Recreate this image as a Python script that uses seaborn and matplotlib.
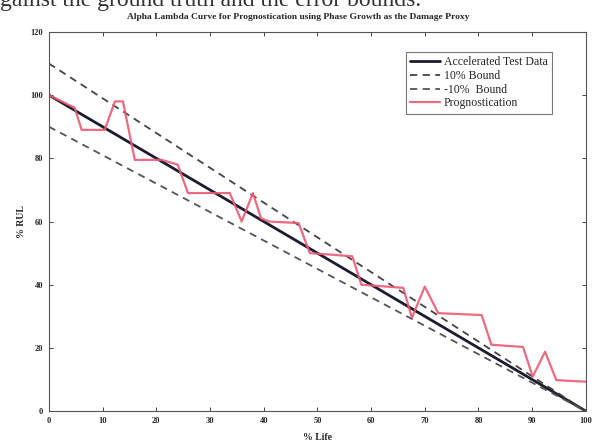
import matplotlib
matplotlib.use("Agg")
import matplotlib.pyplot as plt
import seaborn as sns
import pandas as pd

# ---- data ----
life_ends = [0, 100]
truth_rul = [100, 0]
upper_bound = [110, 0]
lower_bound = [90, 0]

prog_life = [0, 4.8, 6.1, 10.4, 12.3, 13.8, 16, 21, 24, 25.9, 33.7, 35.9, 38, 39.5,
             41, 46.5, 48.6, 56.5, 58.2, 66, 67.6, 70, 72.5, 80.6, 82.4, 88.3, 90.1,
             92.4, 94.5, 100]
prog_rul = [100, 96, 89, 89, 98, 98, 79.5, 79.5, 78, 69, 69, 60, 69, 61,
            60, 59.5, 50, 49, 40, 39, 29.5, 39.4, 31, 30.4, 21, 20.3, 10.9,
            18.8, 9.8, 9.3]

x_ticks = [0, 10, 20, 30, 40, 50, 60, 70, 80, 90, 100]
y_ticks = [0, 20, 40, 60, 80, 100, 120]

title = "Alpha Lambda Curve for Prognostication using Phase Growth as the Damage Proxy"
caption = "gainst the ground truth and the error bounds."

sns.set_style("white")
plt.rcParams['font.family'] = ['Liberation Serif', 'DejaVu Serif']

fig = plt.figure(figsize=(5.96, 4.43), dpi=100)
ax = fig.add_axes([0.082, 0.072, 0.901, 0.856])

df_lines = pd.DataFrame({"life": life_ends, "truth": truth_rul,
                         "upper": upper_bound, "lower": lower_bound})
df_prog = pd.DataFrame({"life": prog_life, "rul": prog_rul})

sns.lineplot(data=df_lines, x="life", y="truth", ax=ax, color="#1c1c30",
             linewidth=2.0, label="Accelerated Test Data", sort=False)
sns.lineplot(data=df_lines, x="life", y="upper", ax=ax, color="#444444",
             linewidth=1.3, linestyle=(0, (4, 3)), label="10% Bound", sort=False)
sns.lineplot(data=df_lines, x="life", y="lower", ax=ax, color="#555555",
             linewidth=1.3, linestyle=(0, (4, 3)), label="-10%  Bound", sort=False)
sns.lineplot(data=df_prog, x="life", y="rul", ax=ax, color="#ec5a72",
             linewidth=1.6, label="Prognostication", sort=False, alpha=0.9)

ax.set_xlim(0, 100)
ax.set_ylim(0, 120)
ax.set_xticks(x_ticks)
ax.set_yticks(y_ticks)
ax.set_xticklabels([str(t) for t in x_ticks], fontsize=6, fontweight="bold")
ax.set_yticklabels([str(t) for t in y_ticks], fontsize=6, fontweight="bold")
ax.tick_params(direction="in", length=3, width=0.6, top=True, right=True,
               bottom=True, left=True, pad=4)
for s in ax.spines.values():
    s.set_color("#555555")
    s.set_linewidth(0.8)

ax.set_xlabel("% Life", fontsize=7, fontweight="bold", labelpad=6)
ax.set_ylabel("% RUL", fontsize=7, fontweight="bold", labelpad=3)

leg = ax.legend(loc="upper right", bbox_to_anchor=(0.937, 0.947), fontsize=8.5,
                frameon=True, fancybox=False, edgecolor="#555555",
                handlelength=2.6, handletextpad=0.3, borderpad=0.35,
                labelspacing=0.15, borderaxespad=0)
leg.get_frame().set_linewidth(0.8)

fig.text(0.5, 0.962, title, ha="center", va="center", fontsize=6.8,
         fontweight="bold")
fig.text(0.0, 0.987, caption, ha="left", va="baseline", fontsize=17,
         color="#333333")

fig.savefig("out.png", dpi=100)
